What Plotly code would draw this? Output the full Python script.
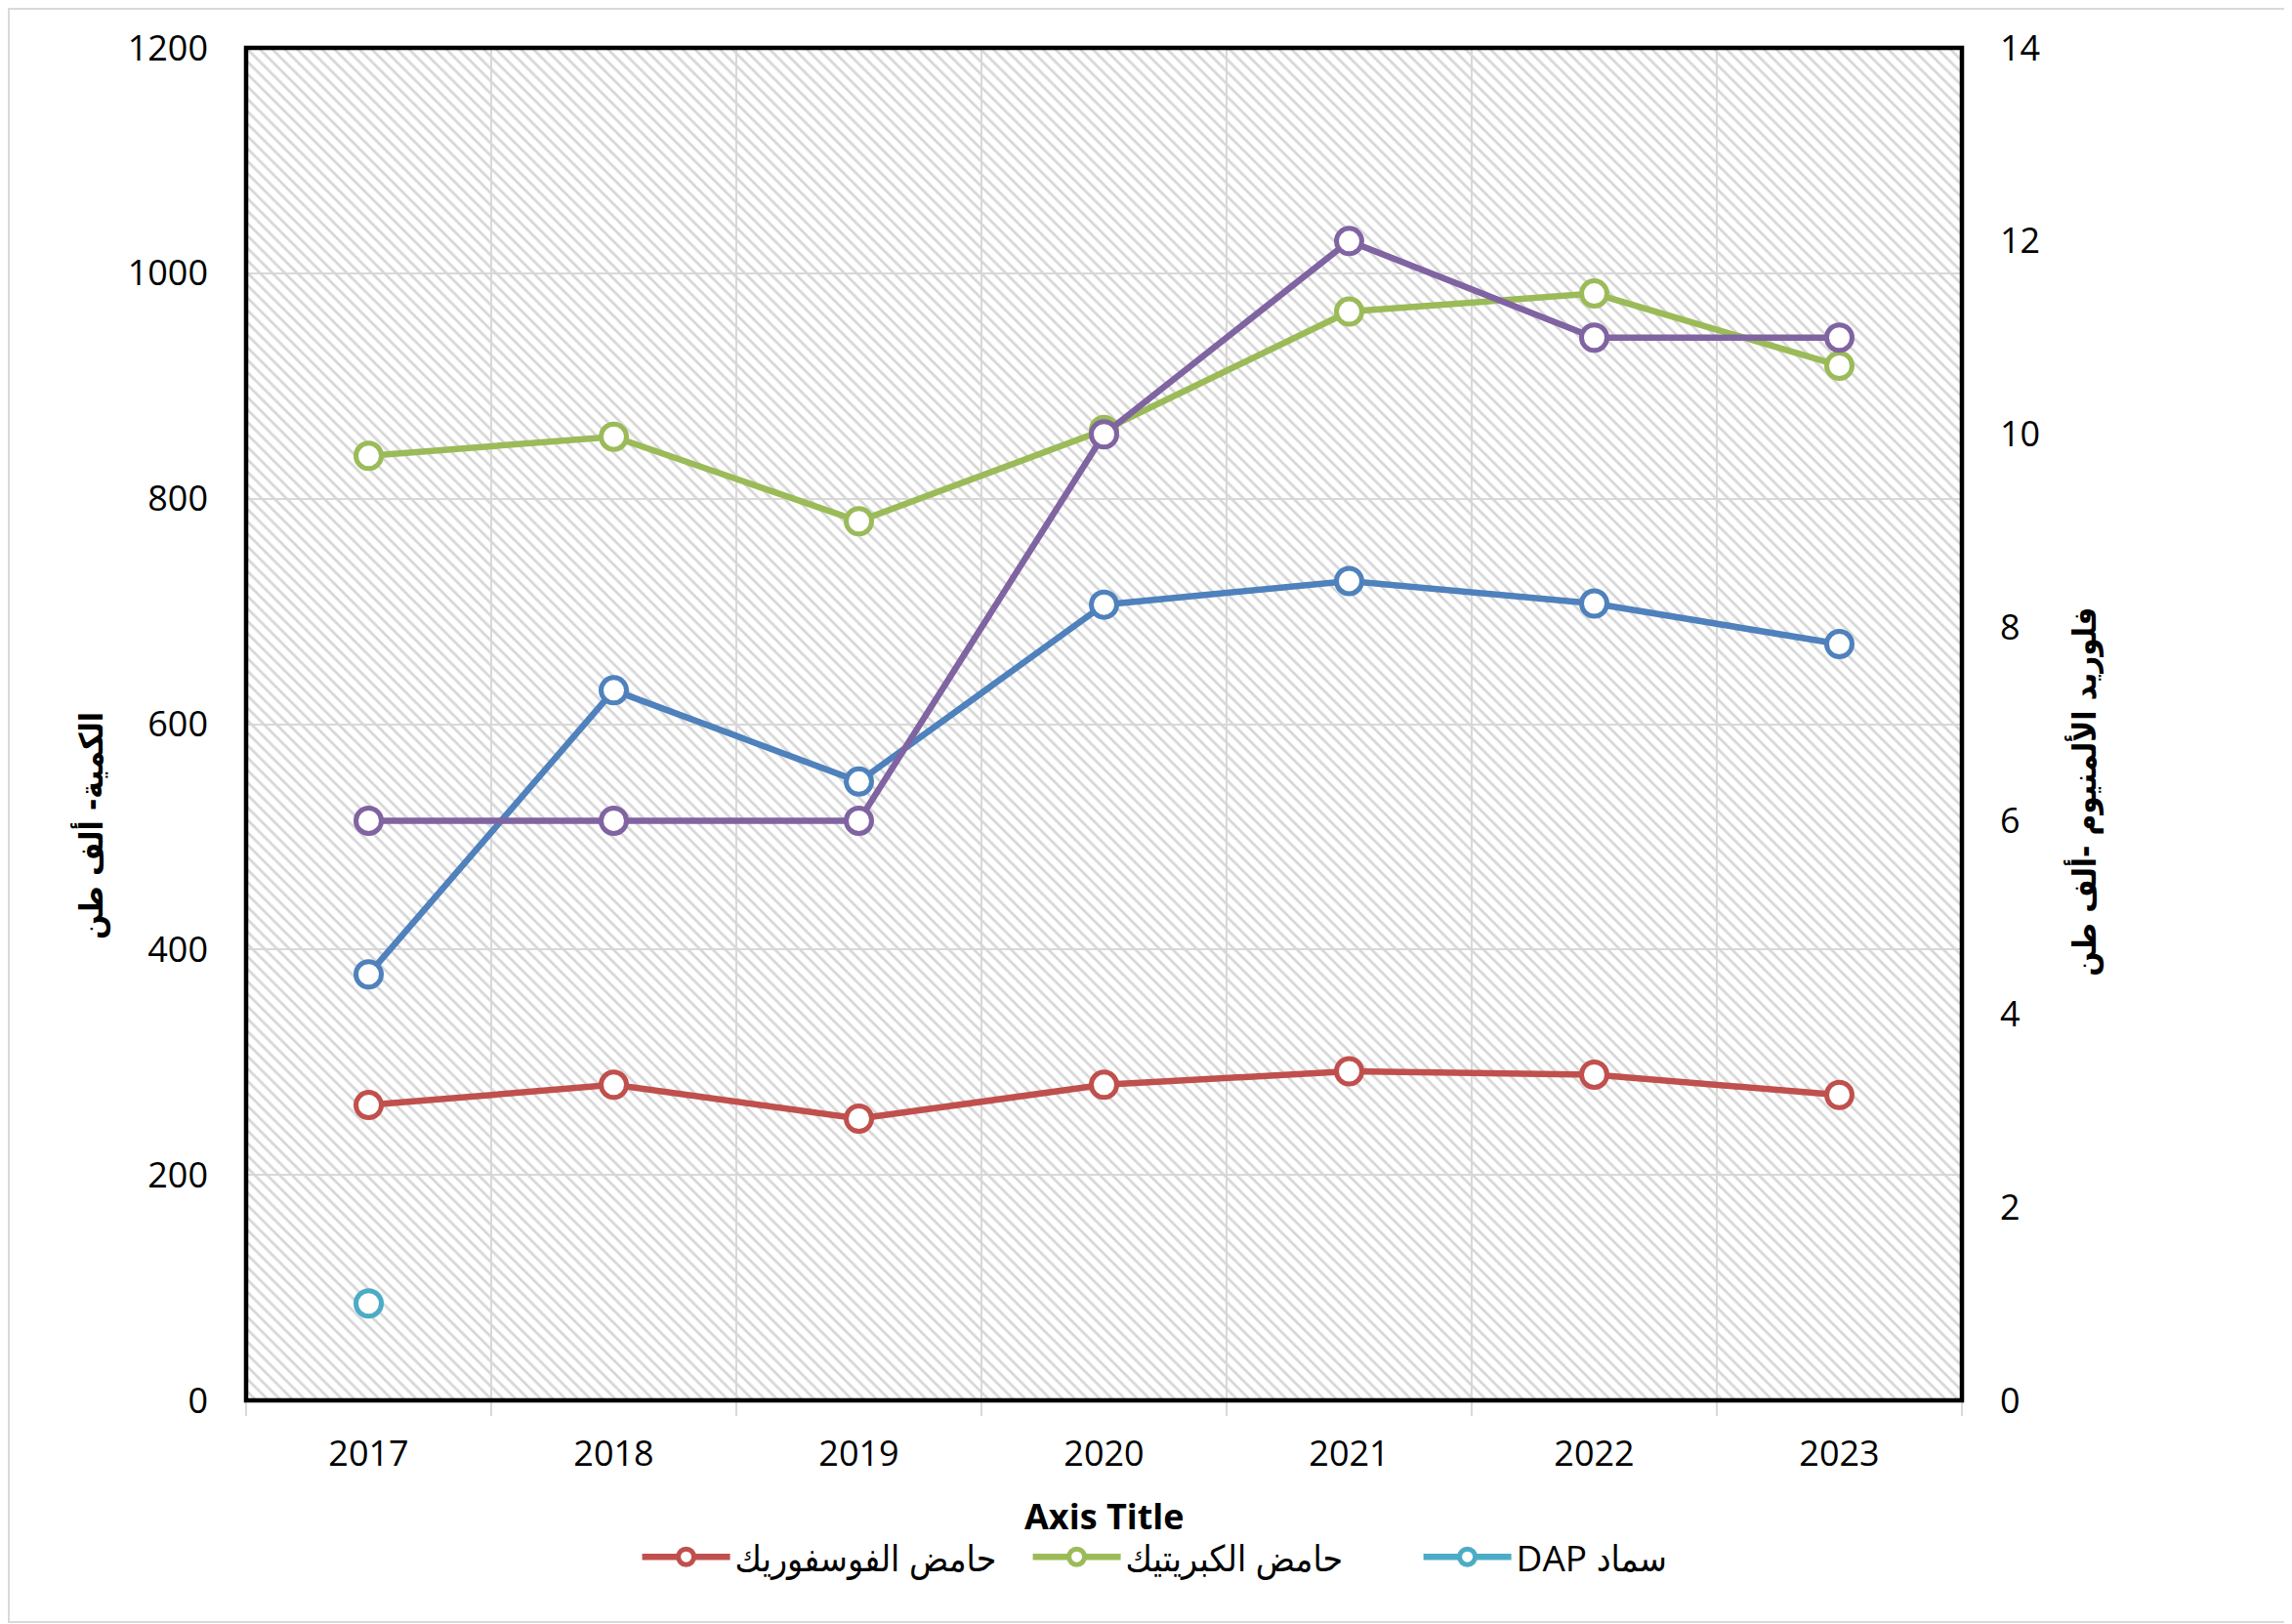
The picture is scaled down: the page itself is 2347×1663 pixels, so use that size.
import plotly.graph_objects as go

years = ["2017", "2018", "2019", "2020", "2021", "2022", "2023"]
phosphoric = [262, 280, 250, 280, 292, 289, 271]
sulfuric = [838, 855, 780, 861, 966, 982, 918]
dap_years = ["2017"]
dap = [86]
blue_series = [378, 630, 549, 706, 727, 707, 671]
alf3 = [6, 6, 6, 10, 12, 11, 11]

name_phos = "حامض الفوسفوريك"
name_sulf = "حامض الكبريتيك"
name_dap = "DAP سماد"
left_title = "الكمية- ألف طن"
right_title = "فلوريد الألمنيوم -ألف طن"
x_title = "Axis Title"

Y_LEFT_MAX = 1200
Y_RIGHT_MAX = 14

C_RED = "#C0504D"
C_GREEN = "#9BBB59"
C_CYAN = "#4BACC6"
C_BLUE = "#4F81BD"
C_PURPLE = "#8064A2"

FONT = "Open Sans, DejaVu Sans Condensed, DejaVu Sans, sans-serif"
AR_FONT = "DejaVu Sans Condensed, DejaVu Sans, sans-serif"

PW, PH = 1757, 1385  # plot area size in px

fig = go.Figure()

# hatched background
fig.add_trace(go.Bar(
    x=[years[3]], y=[Y_LEFT_MAX], width=[len(years)],
    marker=dict(color="rgba(255,255,255,0)", line=dict(width=0),
                pattern=dict(shape="\\", size=9, solidity=0.3,
                             fgcolor="#d6d6d6", bgcolor="rgba(0,0,0,0)", fgopacity=1)),
    showlegend=False, hoverinfo="skip", yaxis="y"))

def line_trace(x, y, name, color, axis="y", legend=True):
    return go.Scatter(
        x=x, y=y, name=name, mode="lines+markers", yaxis=axis,
        line=dict(color=color, width=6.5),
        marker=dict(symbol="circle", size=26, color="white",
                    line=dict(color=color, width=5)),
        showlegend=legend, hoverinfo="skip")

fig.add_trace(line_trace(years, phosphoric, name_phos, C_RED))
fig.add_trace(line_trace(years, sulfuric, name_sulf, C_GREEN))
fig.add_trace(line_trace(dap_years, dap, name_dap, C_CYAN))
fig.add_trace(line_trace(years, blue_series, "blue", C_BLUE, legend=False))
fig.add_trace(line_trace(years, alf3, "alf3", C_PURPLE, axis="y2", legend=False))

fig.update_layout(
    width=2339, height=1655,
    margin=dict(l=244, r=338, t=41, b=229),
    paper_bgcolor="white", plot_bgcolor="white",
    font=dict(family=FONT, size=36, color="#000000"),
    barmode="overlay", bargap=0,
    xaxis=dict(type="category", categoryorder="array", categoryarray=years,
               range=[-0.5, len(years) - 0.5],
               tickson="boundaries", ticks="outside", ticklen=14, tickwidth=2,
               tickcolor="#d9d9d9", showgrid=True, gridcolor="#d9d9d9", gridwidth=2,
               showline=True, linecolor="#d9d9d9", linewidth=2,
               tickfont=dict(size=36), ticklabelstandoff=22),
    yaxis=dict(range=[0, Y_LEFT_MAX], dtick=200, showgrid=True, gridcolor="#d9d9d9",
               gridwidth=2, zeroline=False, ticks="", ticklabelstandoff=38,
               tickfont=dict(size=36)),
    yaxis2=dict(range=[0, Y_RIGHT_MAX], dtick=2, overlaying="y", side="right",
                showgrid=False, zeroline=False, ticks="", ticklabelstandoff=38,
                tickfont=dict(size=36)),
    legend=dict(orientation="h", x=0.228, xanchor="left", y=-0.116, yanchor="middle",
                font=dict(size=37, family=FONT), bgcolor="rgba(0,0,0,0)",
                itemwidth=90, entrywidth=295, entrywidthmode="pixels"),
    showlegend=True,
)

fig.add_shape(type="rect", xref="paper", yref="paper", x0=0, x1=1, y0=0, y1=1,
              line=dict(color="black", width=4.5), layer="above")
fig.add_shape(type="rect", xref="paper", yref="paper",
              x0=-243/PW, x1=1 + 336/PW, y0=-227/PH, y1=1 + 40/PH,
              line=dict(color="#d9d9d9", width=2), layer="above")

fig.add_annotation(text="<b>" + left_title + "</b>", xref="paper", yref="paper",
                   x=-159/PW, xanchor="center", y=0.4245, yanchor="middle",
                   textangle=-90, showarrow=False,
                   font=dict(size=33, family=AR_FONT))
fig.add_annotation(text="<b>" + right_title + "</b>", xref="paper", yref="paper",
                   x=1 + 125/PW, xanchor="center", y=0.45, yanchor="middle",
                   textangle=-90, showarrow=False,
                   font=dict(size=33, family=AR_FONT))
fig.add_annotation(text="<b>" + x_title + "</b>", xref="paper", yref="paper",
                   x=0.5, y=-118/PH, yanchor="middle", showarrow=False,
                   font=dict(size=36))

fig.write_html("out.html")
